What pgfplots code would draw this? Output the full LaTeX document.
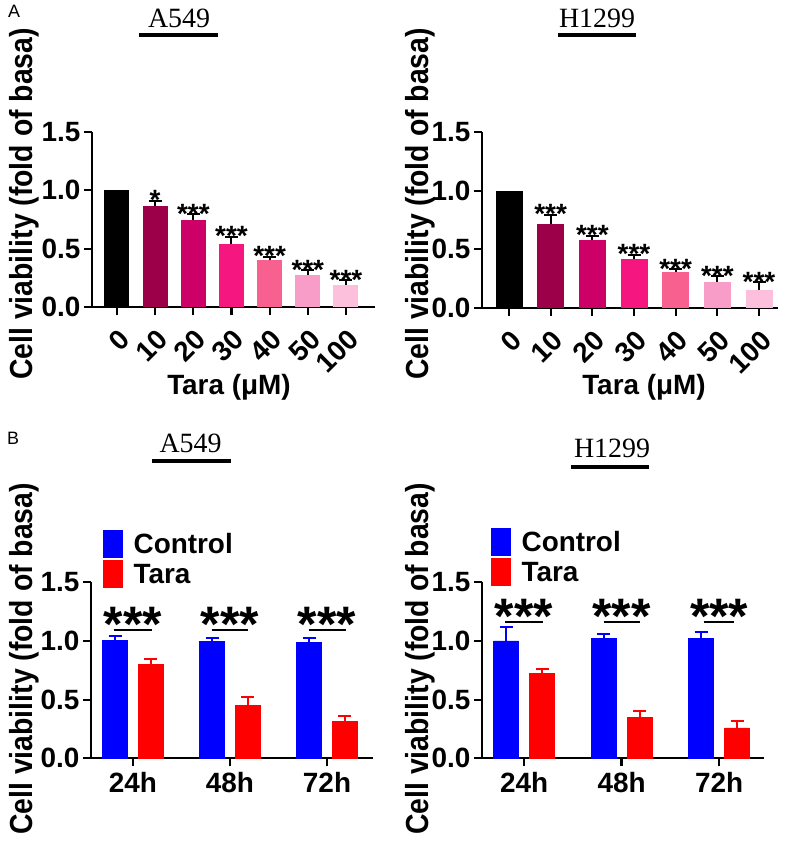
\documentclass[border=0pt]{standalone}
\usepackage{pgfplots}
\pgfplotsset{compat=1.18}
\usepackage{fontspec}
\setmainfont{Liberation Sans}
\newfontfamily\tnr{Liberation Serif}

\definecolor{c10}{RGB}{155,0,72}
\definecolor{c20}{RGB}{204,0,102}
\definecolor{c30}{RGB}{245,23,127}
\definecolor{c40}{RGB}{248,96,144}
\definecolor{c50}{RGB}{248,156,200}
\definecolor{c100}{RGB}{252,192,220}
\definecolor{cblue}{RGB}{0,0,255}
\definecolor{cred}{RGB}{255,0,0}

\newcommand{\fs}[1]{\fontsize{#1}{#1}\selectfont}

\pgfplotsset{
  base/.style={
    scale only axis,
    anchor=south west,
    clip=false,
    axis x line*=bottom,
    axis y line*=left,
    axis line style={line width=2.2bp},
    every tick/.style={black, line width=2.2bp},
    major tick length=8bp,
    tick align=outside,
    ymin=0, ymax=1.5,
    ytick={0,0.5,1,1.5},
    yticklabels={0.0,0.5,1.0,1.5},
    tick label style={font=\fs{28}\bfseries},
    /pgf/number format/assume math mode=true,
  },
  baseA/.style={
    base,
    xtick={0,1,2,3,4,5,6},
    xticklabels={0,10,20,30,40,50,100},
    xticklabel style={rotate=45, anchor=east, yshift=-19bp, xshift=-5bp},
  },
  baseB/.style={
    base,
    xtick={0,1,2},
    xticklabels={24h,48h,72h},
    xticklabel style={anchor=north, yshift=-2bp},
    legend cell align=left,
    legend style={draw=none, fill=none, anchor=north west, inner sep=0pt,
      font=\fs{28}\bfseries, row sep=2bp, column sep=11bp,
      nodes={inner sep=0pt, text height=20bp, text depth=0pt}},
  },
  barA/.style 2 args={ybar, bar width=#1, bar shift=0pt, draw=none, fill=#2,
    error bars/.cd, y dir=plus, y explicit,
    error bar style={black, line width=2bp},
    error mark options={black, rotate=90, mark size=6.5bp, line width=2bp}},
  starsA/.style={draw=none, forget plot, nodes near coords, point meta=explicit symbolic,
    every node near coord/.style={font=\fs{28}\bfseries, anchor=base, inner sep=0pt, yshift=-9bp}},
  barB/.style={ybar, bar width=25bp, bar shift=0pt, fill=#1, draw=#1,
    legend image code/.code={\fill[#1] (0bp,-13.5bp) rectangle (19bp,13.5bp);},
    error bars/.cd, y dir=plus, y explicit,
    error bar style={#1, line width=2bp},
    error mark options={#1, rotate=90, mark size=6.5bp, line width=2bp}},
  starsB/.style={draw=none, forget plot, nodes near coords={***},
    every node near coord/.style={font=\fs{50}\bfseries, anchor=base, inner sep=0pt, yshift=-11.5bp}},
  sig/.style={black, line width=2bp, forget plot},
}

\begin{document}
\begin{tikzpicture}
\useasboundingbox (0,0) rectangle (792bp,842bp);

% ---------- Panel A, A549 ----------
\begin{axis}[baseA, at={(92bp,534.7bp)}, width=283bp, height=175.6bp, xmin=-0.655, xmax=6.76]
\addplot[ybar, bar width=25bp, bar shift=0pt, draw=none, fill=black] coordinates {(0,1.0)};
\addplot[barA={25bp}{c10}] coordinates {(1,0.864) +- (0,0.045)};
\addplot[barA={25bp}{c20}] coordinates {(2,0.744) +- (0,0.049)};
\addplot[barA={25bp}{c30}] coordinates {(3,0.537) +- (0,0.065)};
\addplot[barA={25bp}{c40}] coordinates {(4,0.401) +- (0,0.031)};
\addplot[barA={25bp}{c50}] coordinates {(5,0.276) +- (0,0.042)};
\addplot[barA={25bp}{c100}] coordinates {(6,0.190) +- (0,0.043)};
\addplot[starsA] table[meta=s, row sep=\\] {x y s\\ 1 0.909 *\\ 2 0.793 ***\\ 3 0.602 ***\\ 4 0.432 ***\\ 5 0.318 ***\\ 6 0.233 ***\\};
\end{axis}

% ---------- Panel A, H1299 ----------
\begin{axis}[baseA, at={(482bp,534bp)}, width=296bp, height=176bp, xmin=-0.648, xmax=6.456]
\addplot[ybar, bar width=27bp, bar shift=0pt, draw=none, fill=black] coordinates {(0,1.0)};
\addplot[barA={27bp}{c10}] coordinates {(1,0.713) +- (0,0.080)};
\addplot[barA={27bp}{c20}] coordinates {(2,0.580) +- (0,0.036)};
\addplot[barA={27bp}{c30}] coordinates {(3,0.418) +- (0,0.034)};
\addplot[barA={27bp}{c40}] coordinates {(4,0.307) +- (0,0.025)};
\addplot[barA={27bp}{c50}] coordinates {(5,0.224) +- (0,0.046)};
\addplot[barA={27bp}{c100}] coordinates {(6,0.156) +- (0,0.063)};
\addplot[starsA] table[meta=s, row sep=\\] {x y s\\ 1 0.793 ***\\ 2 0.616 ***\\ 3 0.452 ***\\ 4 0.332 ***\\ 5 0.270 ***\\ 6 0.219 ***\\};
\end{axis}

% ---------- Panel B, A549 ----------
\begin{axis}[baseB, at={(91bp,83.7bp)}, width=282bp, height=176bp, xmin=-0.433, xmax=2.474,
  legend style={at={(0.0426,1.297)}}]
\addplot[barB=cblue] coordinates {(-0.185,1.005) +- (0,0.040) (0.815,0.997) +- (0,0.025) (1.815,0.990) +- (0,0.035)};
\addlegendentry{Control}
\addplot[barB=cred] coordinates {(0.185,0.800) +- (0,0.050) (1.185,0.450) +- (0,0.070) (2.185,0.315) +- (0,0.047)};
\addlegendentry{Tara}
\addplot[sig] coordinates {(-0.20,1.094) (0.20,1.094)};
\addplot[sig] coordinates {(0.81,1.094) (1.19,1.094)};
\addplot[sig] coordinates {(1.81,1.094) (2.20,1.094)};
\addplot[starsB] coordinates {(0,1.094) (1,1.094) (2,1.094)};
\end{axis}

% ---------- Panel B, H1299 ----------
\begin{axis}[baseB, at={(482bp,83.7bp)}, width=282bp, height=176bp, xmin=-0.431, xmax=2.46,
  legend style={at={(0.032,1.309)}}]
\addplot[barB=cblue] coordinates {(-0.185,1.000) +- (0,0.117) (0.815,1.020) +- (0,0.037) (1.815,1.020) +- (0,0.060)};
\addlegendentry{Control}
\addplot[barB=cred] coordinates {(0.185,0.724) +- (0,0.036) (1.185,0.347) +- (0,0.053) (2.185,0.260) +- (0,0.055)};
\addlegendentry{Tara}
\addplot[sig] coordinates {(-0.195,1.165) (0.195,1.165)};
\addplot[sig] coordinates {(0.815,1.165) (1.185,1.165)};
\addplot[sig] coordinates {(1.84,1.165) (2.15,1.165)};
\addplot[starsB] coordinates {(0,1.165) (1,1.165) (2,1.165)};
\end{axis}

% ---------- labels and titles ----------
\node[anchor=base west, font=\fs{18}, inner sep=0pt] at (8bp,824bp) {A};
\node[anchor=base west, font=\fs{18}, inner sep=0pt] at (7bp,397bp) {B};

\node[anchor=base, font=\tnr\fs{28}, inner sep=0pt] at (179bp,814bp) {A549};
\draw[line width=3.5bp] (139bp,807bp) -- (218bp,807bp);
\node[anchor=base, font=\tnr\fs{28}, inner sep=0pt] at (597bp,814bp) {H1299};
\draw[line width=3.5bp] (558bp,807bp) -- (636bp,807bp);
\node[anchor=base, font=\tnr\fs{28}, inner sep=0pt] at (190.5bp,389bp) {A549};
\draw[line width=3.5bp] (152bp,381bp) -- (231bp,381bp);
\node[anchor=base, font=\tnr\fs{28}, inner sep=0pt] at (612bp,384bp) {H1299};
\draw[line width=3.5bp] (571bp,375bp) -- (649bp,375bp);

\node[rotate=90, xscale=0.89, anchor=base, font=\fs{32}\bfseries, inner sep=0pt] at (32bp,638bp) {Cell viability (fold of basa)};
\node[rotate=90, xscale=0.89, anchor=base, font=\fs{32}\bfseries, inner sep=0pt] at (428bp,638bp) {Cell viability (fold of basa)};
\node[rotate=90, xscale=0.89, anchor=base, font=\fs{32}\bfseries, inner sep=0pt] at (32bp,183bp) {Cell viability (fold of basa)};
\node[rotate=90, xscale=0.89, anchor=base, font=\fs{32}\bfseries, inner sep=0pt] at (428bp,183bp) {Cell viability (fold of basa)};

\node[anchor=base, font=\fs{28}\bfseries, inner sep=0pt] at (229bp,447bp) {Tara (μM)};
\node[anchor=base, font=\fs{28}\bfseries, inner sep=0pt] at (644bp,447bp) {Tara (μM)};
\end{tikzpicture}
\end{document}
